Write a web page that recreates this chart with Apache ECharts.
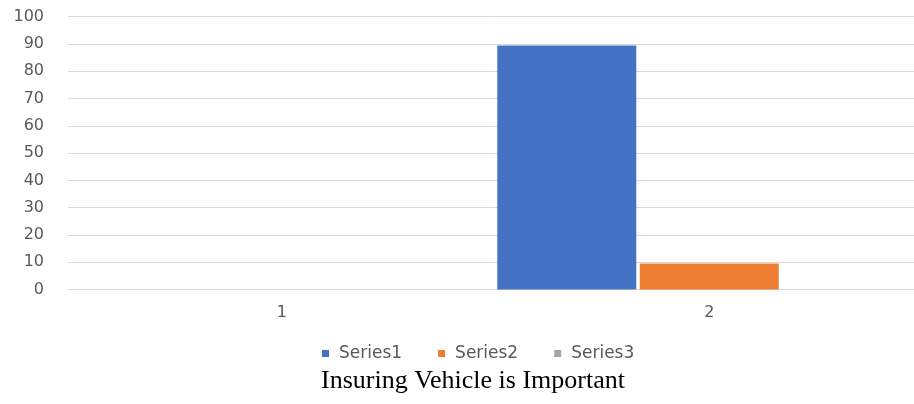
<!DOCTYPE html>
<html>
<head>
<meta charset="utf-8">
<script src="https://cdn.jsdelivr.net/npm/echarts@6/dist/echarts.min.js"></script>
<style>
  html, body { margin: 0; padding: 0; background: #fff; }
  #chart { width: 914px; height: 404px; }
</style>
</head>
<body>
<div id="chart"></div>
<script>
// Survey responses for "Insuring Vehicle is Important"
const categories = ['1', '2'];
const series1 = [0, 89.4];
const series2 = [0, 9.5];
const series3 = [0, 0];
const seriesNames = ['Series1', 'Series2', 'Series3'];
const yTicks = { min: 0, max: 100, step: 10 };
const titleText = 'Insuring Vehicle is Important';

const colors = ['#4472C4', '#ED7D31', '#A5A5A5'];
const axisFont = { fontFamily: 'DejaVu Sans', fontSize: 16, color: '#595959' };

const chart = echarts.init(document.getElementById('chart'), null, { renderer: 'canvas' });

const values = [series1, series2, series3];

chart.setOption({
  animation: false,
  color: colors,
  title: {
    text: titleText,
    left: 321,
    top: 368,
    padding: 0,
    textStyle: { fontFamily: 'Liberation Serif', fontSize: 26, fontWeight: 'normal', color: '#000' }
  },
  legend: {
    data: seriesNames,
    left: 322,
    top: 345,
    padding: 0,
    itemWidth: 7,
    itemHeight: 7,
    itemGap: 36,
    icon: 'rect',
    textStyle: { fontFamily: 'DejaVu Sans', fontSize: 17, color: '#595959', padding: [0, 0, 0, 5] }
  },
  // the plot runs a little past the right edge of the canvas
  grid: {
    left: 68, width: 855, top: 16.7, bottom: 114.5,
    containLabel: false,
    outerBoundsMode: 'none'
  },
  xAxis: {
    type: 'category',
    data: categories,
    axisLine: { show: true, lineStyle: { color: '#D9D9D9', width: 1 } },
    axisTick: { show: false },
    axisLabel: Object.assign({ margin: 15 }, axisFont),
    splitLine: { show: false }
  },
  yAxis: {
    type: 'value',
    min: yTicks.min,
    max: yTicks.max,
    interval: yTicks.step,
    axisLine: { show: false },
    axisTick: { show: false },
    axisLabel: Object.assign({ margin: 24 }, axisFont),
    splitLine: { lineStyle: { color: '#D9D9D9', width: 1 } }
  },
  series: seriesNames.map((name, i) => ({
    name: name,
    type: 'bar',
    data: values[i],
    barWidth: 139,
    barGap: '2.5%',
    itemStyle: { color: colors[i] }
  }))
});
</script>
</body>
</html>
